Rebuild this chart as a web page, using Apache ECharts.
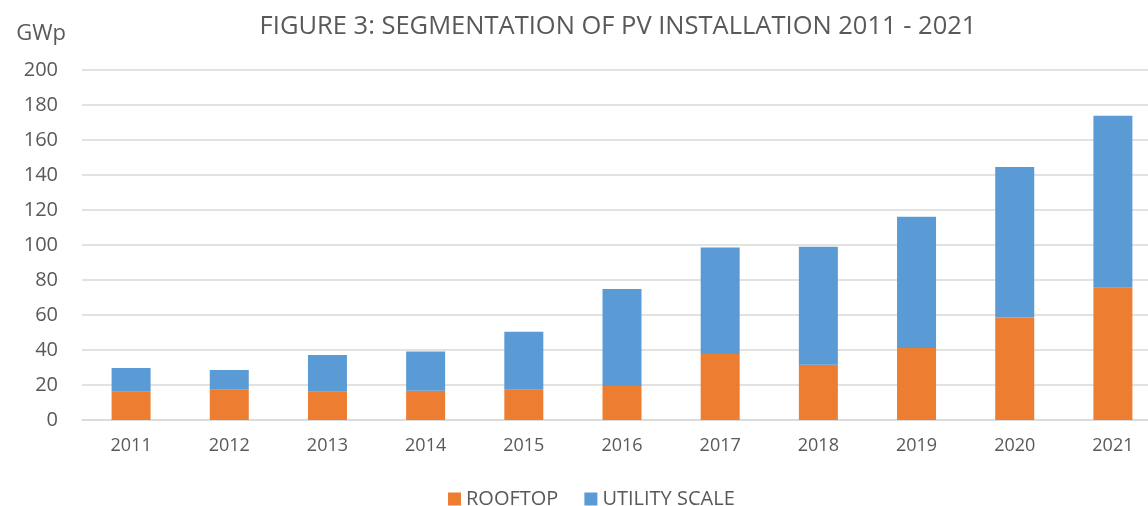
<!DOCTYPE html>
<html>
<head>
<meta charset="utf-8">
<script src="https://cdn.jsdelivr.net/npm/echarts@6/dist/echarts.min.js"></script>
<style>
  html, body { margin: 0; padding: 0; background: #fff; overflow: hidden; }
  #chart { width: 1164px; height: 506px; }
</style>
</head>
<body>
<div id="chart"></div>
<script>
  // data
  var years = ['2011', '2012', '2013', '2014', '2015', '2016', '2017', '2018', '2019', '2020', '2021']
  var rooftop = [16.2, 17.3, 16.2, 16.7, 17.3, 19.4, 37.7, 31.6, 41.1, 58.6, 75.6]
  var utility = [13.5, 11.3, 20.9, 22.5, 33.2, 55.5, 60.9, 67.4, 75.1, 86.0, 98.3]

  var font = 'Open Sans'
  var textColor = '#595959'

  // the plot runs a bit past the right edge of the window, as in the original
  var chart = echarts.init(document.getElementById('chart'))
  var option = {
    animation: false,
    title: {
      text: 'FIGURE 3: SEGMENTATION OF PV INSTALLATION 2011 - 2021',
      left: 613,
      textAlign: 'center',
      top: 9,
      textStyle: { fontFamily: font, fontSize: 25.5, fontWeight: 'normal', color: textColor }
    },
    legend: {
      data: ['ROOFTOP', 'UTILITY SCALE'],
      left: 443,
      top: 484,
      itemWidth: 13,
      itemHeight: 13,
      itemGap: 26,
      icon: 'rect',
      textStyle: { fontFamily: font, fontSize: 20, color: textColor }
    },
    grid: { left: 82, top: 70, right: 2, height: 350 },
    xAxis: {
      type: 'category',
      data: years,
      axisLine: { lineStyle: { color: '#D9D9D9', width: 1.5 } },
      axisTick: { show: false },
      axisLabel: { fontFamily: font, fontSize: 18, color: textColor, margin: 17 }
    },
    yAxis: {
      type: 'value',
      name: 'GWp',
      nameLocation: 'end',
      nameGap: 25,
      nameTextStyle: { fontFamily: font, fontSize: 22, color: textColor, align: 'right', padding: [0, 16, 0, 0] },
      min: 0,
      max: 200,
      interval: 20,
      axisLine: { show: false },
      axisTick: { show: false },
      splitLine: { lineStyle: { color: '#D9D9D9', width: 1.5 } },
      axisLabel: { fontFamily: font, fontSize: 20, color: textColor, margin: 24 }
    },
    series: [
      {
        name: 'ROOFTOP',
        type: 'bar',
        stack: 'total',
        barWidth: 39,
        data: rooftop,
        itemStyle: { color: '#ED7D31' }
      },
      {
        name: 'UTILITY SCALE',
        type: 'bar',
        stack: 'total',
        barWidth: 39,
        data: utility,
        itemStyle: { color: '#5B9BD5' }
      }
    ]
  }
  chart.setOption(option)
</script>
</body>
</html>
